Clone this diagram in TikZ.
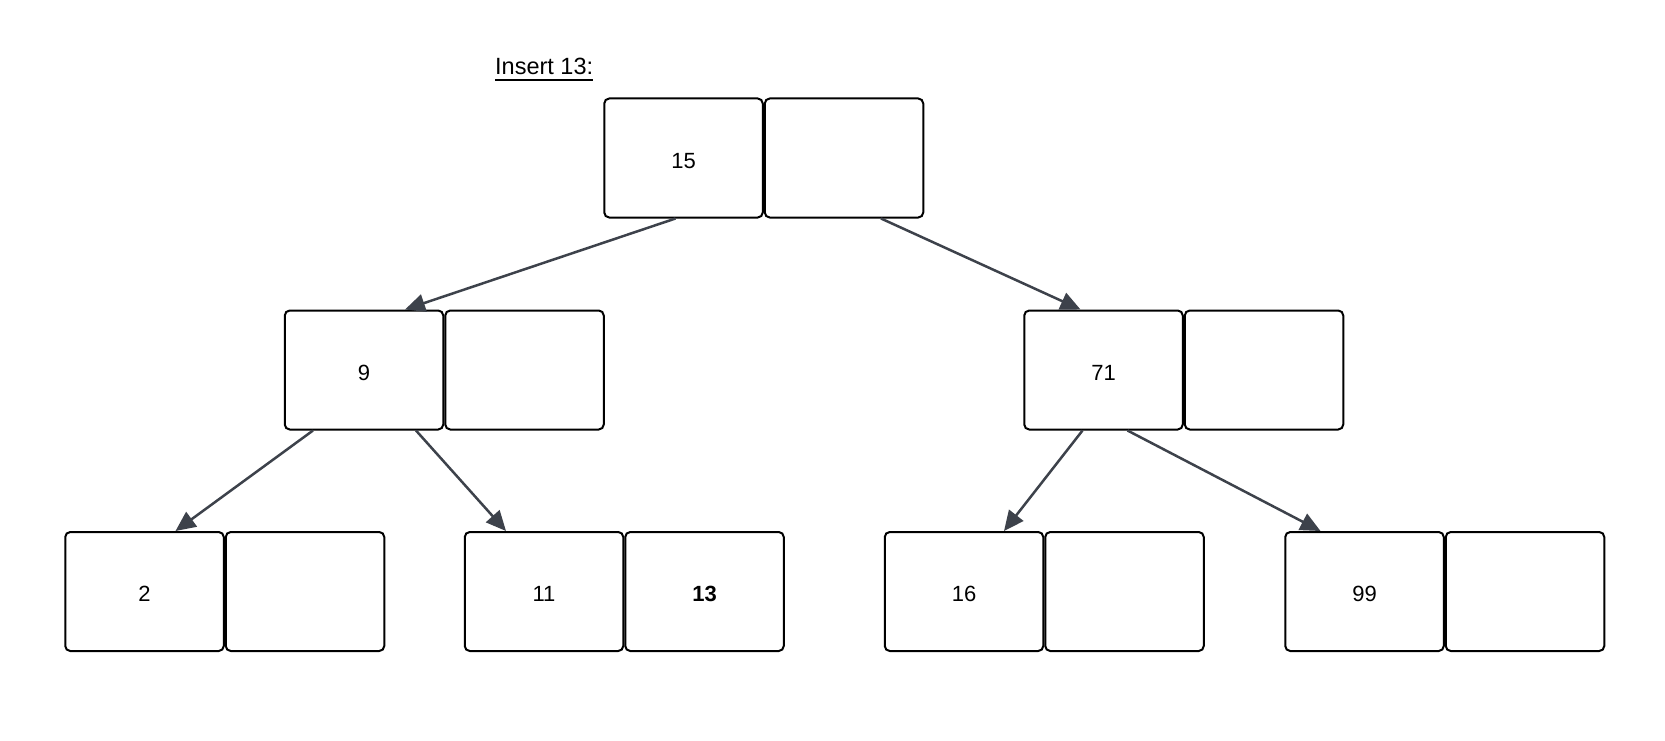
\documentclass[tikz,border=0pt]{standalone}
\usepackage{fontspec}
\setmainfont{Liberation Sans}
\usetikzlibrary{positioning,arrows.meta}
\definecolor{edgegray}{HTML}{3D424B}

\begin{document}
\begin{tikzpicture}[x=1pt,y=-1pt,
  key/.style={draw=black,line width=2pt,rounded corners=5pt,minimum width=158.5pt,minimum height=119pt,inner sep=0pt,text height=20pt,text depth=0pt,font=\fontsize{22}{26}\selectfont},
  link/.style={draw=edgegray,line width=2.5pt,-{Triangle[length=20pt,width=18pt]}}]
\useasboundingbox (0,0) rectangle (1665,741);
% title
\node (title) [anchor=base west,inner sep=0pt,font=\fontsize{23.5}{28}\selectfont] at (495,75) {Insert 13:};
\draw[line width=1.3pt] ([yshift=-5pt]title.base west) -- ([yshift=-5pt]title.base east);
% root
\node (n15) [key] at (683.5,158) {15};
\node (e15) [key,right=0pt of n15] {};
% middle level
\node (n9) [key] at (364,370) {9};
\node (e9) [key,right=0pt of n9] {};
\node (n71) [key] at (1103.5,370) {71};
\node (e71) [key,right=0pt of n71] {};
% leaves
\node (n2) [key] at (144.5,591.5) {2};
\node (e2) [key,right=0pt of n2] {};
\node (n11) [key] at (544,591.5) {11};
\node (k13) [key,right=0pt of n11] {\bfseries 13};
\node (n16) [key] at (964,591.5) {16};
\node (e16) [key,right=0pt of n16] {};
\node (n99) [key] at (1364.5,591.5) {99};
\node (e99) [key,right=0pt of n99] {};
% pointers
\draw[link] ([xshift=-8pt]n15.south) -- ([xshift=41pt]n9.north);
\draw[link] ([xshift=37pt]e15.south) -- ([xshift=-23pt]n71.north);
\draw[link] ([xshift=-51pt]n9.south) -- ([xshift=31pt]n2.north);
\draw[link] ([xshift=52pt]n9.south) -- ([xshift=-38pt]n11.north);
\draw[link] ([xshift=-21pt]n71.south) -- ([xshift=40pt]n16.north);
\draw[link] ([xshift=24pt]n71.south) -- ([xshift=-44pt]n99.north);
\end{tikzpicture}
\end{document}
